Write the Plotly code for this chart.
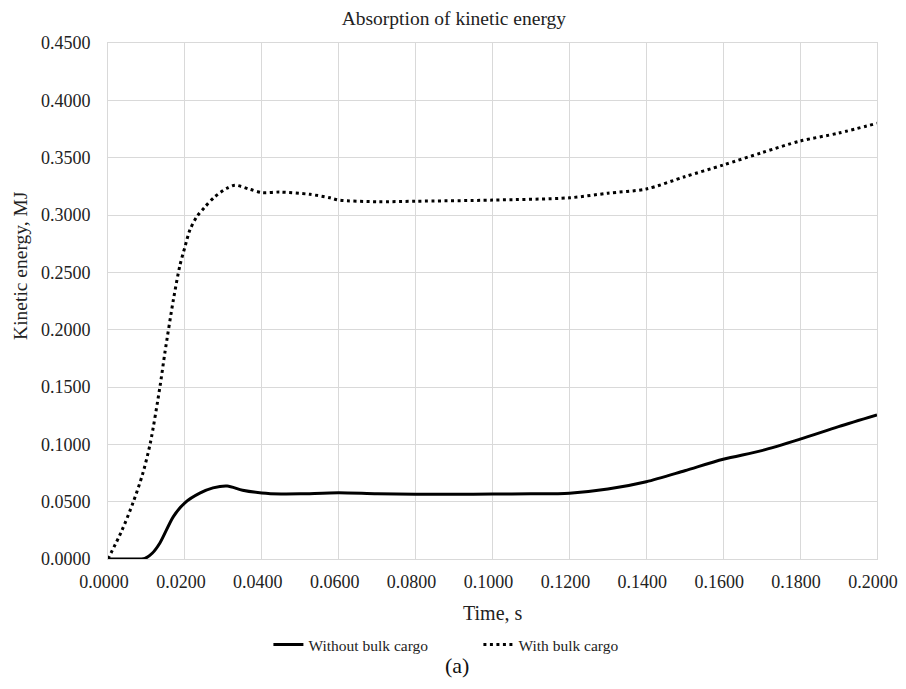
import plotly.graph_objects as go

# Time (s) and kinetic energy (MJ)
t_without = [0.0, 0.004, 0.0085, 0.0096, 0.0115, 0.0135, 0.017, 0.020, 0.024, 0.0273, 0.031, 0.035, 0.040, 0.045,
             0.050, 0.060, 0.070, 0.080, 0.090, 0.100, 0.110, 0.120, 0.130, 0.140, 0.150, 0.160,
             0.170, 0.180, 0.190, 0.200]
e_without = [0.0, 0.0, 0.0, 0.0005, 0.005, 0.014, 0.037, 0.049, 0.0576, 0.062, 0.0637, 0.060, 0.0576, 0.0567,
             0.0568, 0.0578, 0.0568, 0.0565, 0.0565, 0.0566, 0.0568, 0.0574, 0.061, 0.0674, 0.077, 0.087,
             0.0945, 0.1045, 0.1154, 0.1256]

t_with = [0.0, 0.0035, 0.0065, 0.009, 0.011, 0.0135, 0.0148, 0.017, 0.0187, 0.020, 0.0213, 0.0231,
          0.0252, 0.0278, 0.0309, 0.033, 0.0369, 0.040, 0.0447, 0.0525, 0.0577, 0.060, 0.070, 0.080,
          0.100, 0.120, 0.130, 0.140, 0.150, 0.160, 0.170, 0.180, 0.190, 0.200]
e_with = [0.0, 0.024, 0.049, 0.074, 0.101, 0.150, 0.180, 0.226, 0.256, 0.272, 0.287, 0.2985,
          0.307, 0.316, 0.3233, 0.326, 0.3224, 0.3195, 0.320, 0.318, 0.315, 0.313, 0.3116, 0.312,
          0.313, 0.315, 0.319, 0.3227, 0.3334, 0.3436, 0.3543, 0.3645, 0.3714, 0.380]

x_ticks = [0.0, 0.02, 0.04, 0.06, 0.08, 0.10, 0.12, 0.14, 0.16, 0.18, 0.20]
y_ticks = [0.0, 0.05, 0.10, 0.15, 0.20, 0.25, 0.30, 0.35, 0.40, 0.45]

FONT = "Liberation Serif, Times New Roman, serif"
GRID = "#d9d9d9"
TXT = "#222222"

fig = go.Figure()
fig.add_trace(go.Scatter(x=t_without, y=e_without, mode="lines", name="Without bulk cargo",
                         line=dict(color="black", width=3, shape="spline", smoothing=0.8)))
fig.add_trace(go.Scatter(x=t_with, y=e_with, mode="lines", name="With bulk cargo",
                         line=dict(color="black", width=3, dash="3px,3.5px", shape="spline", smoothing=0.8)))

# The page body adds an 8px offset, so the figure is 890x673 inside a 906x689 window.
fig.update_layout(
    width=890, height=673,
    margin=dict(l=100, r=21, t=35, b=122, autoexpand=False),
    paper_bgcolor="white", plot_bgcolor="white",
    font=dict(family=FONT, color=TXT, size=18),
    title=dict(text="Absorption of kinetic energy", x=0.501, xanchor="center", y=0.985, yanchor="middle",
               font=dict(size=19.5, family=FONT, color=TXT)),
    showlegend=True,
    legend=dict(orientation="h", x=0.2086, xanchor="left", y=-0.1667, yanchor="middle",
                font=dict(size=15.5, family=FONT, color=TXT), itemwidth=30, entrywidth=165),
    annotations=[
        dict(text="Time, s", x=0.5, xref="paper", y=-0.1047, yref="paper", showarrow=False,
             xanchor="center", yanchor="middle", font=dict(size=20, family=FONT, color=TXT)),
        dict(text="Kinetic energy, MJ", x=-0.1131, xref="paper", y=0.568, yref="paper", showarrow=False,
             textangle=-90, xanchor="center", yanchor="middle", font=dict(size=19.5, family=FONT, color=TXT)),
        dict(text="(a)", x=0.454, xref="paper", y=-0.206, yref="paper", showarrow=False,
             xanchor="center", yanchor="middle", font=dict(size=22, family=FONT, color="#111111")),
    ],
)
fig.update_xaxes(range=[0, 0.2], tickvals=x_ticks, tickformat=".4f", automargin=False,
                 ticklabeloverflow="allow", ticklabelshift=-4,
                 showgrid=True, gridcolor=GRID, gridwidth=1, zeroline=False,
                 showline=True, linecolor=GRID, linewidth=1, mirror=True,
                 ticks="", ticklabelstandoff=6,
                 tickfont=dict(size=18, family=FONT, color=TXT))
fig.update_yaxes(range=[0, 0.45], tickvals=y_ticks, tickformat=".4f", automargin=False,
                 ticklabeloverflow="allow",
                 showgrid=True, gridcolor=GRID, gridwidth=1, zeroline=False,
                 showline=True, linecolor=GRID, linewidth=1, mirror=True,
                 ticks="", ticklabelstandoff=13,
                 tickfont=dict(size=18, family=FONT, color=TXT))

fig.write_html("out.html")
